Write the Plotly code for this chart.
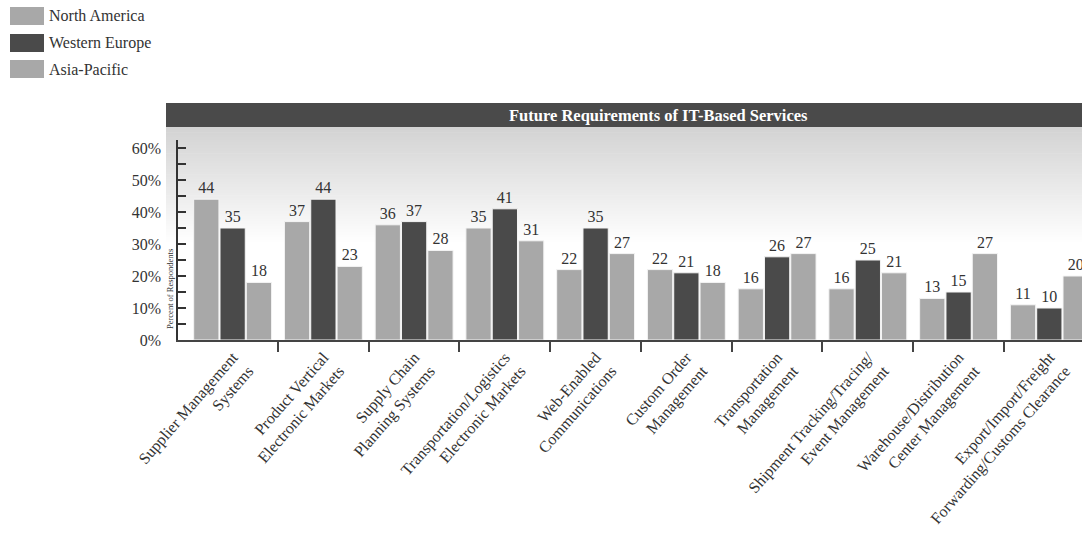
import plotly.graph_objects as go

# Survey data: share of respondents naming each IT-based service as a future requirement
categories = [
    "Supplier Management<br>Systems",
    "Product Vertical<br>Electronic Markets",
    "Supply Chain<br>Planning Systems",
    "Transportation/Logistics<br>Electronic Markets",
    "Web-Enabled<br>Communications",
    "Custom Order<br>Management",
    "Transportation<br>Management",
    "Shipment Tracking/Tracing/<br>Event Management",
    "Warehouse/Distribution<br>Center Management",
    "Export/Import/Freight<br>Forwarding/Customs Clearance",
]
north_america = [44, 37, 36, 35, 22, 22, 16, 16, 13, 11]
western_europe = [35, 44, 37, 41, 35, 21, 26, 25, 15, 10]
asia_pacific = [18, 23, 28, 31, 27, 18, 27, 21, 27, 20]

series_names = ["North America", "Western Europe", "Asia-Pacific"]
series_values = [north_america, western_europe, asia_pacific]
series_colors = ["#a8a8a8", "#4a4a4a", "#a8a8a8"]

y_tick_values = [0, 10, 20, 30, 40, 50, 60]
y_tick_labels = ["0%", "10%", "20%", "30%", "40%", "50%", "60%"]

chart_title = "Future Requirements of IT-Based Services"
y_title = "Percent of Respondents"

FONT = "Liberation Serif"
TEXT = "#333333"

W, H = 1082, 535
L, R, T, B = 178, 1082, 140, 340   # plot area in pixels


def fx(x):
    return (x - L) / (R - L)


def fy(y):
    return (B - y) / (B - T)


x_pos = list(range(len(categories)))

fig = go.Figure()
for name, vals, col in zip(series_names, series_values, series_colors):
    fig.add_trace(go.Bar(
        x=x_pos, y=vals, name=name,
        marker=dict(color=col, line=dict(color="#f4f4f4", width=1)),
        text=[str(v) for v in vals], textposition="outside",
        textfont=dict(family=FONT, size=16, color=TEXT),
        cliponaxis=True, showlegend=False,
    ))

shapes = []
# soft grey gradient under the title band
n_strips = 45
g_top, g_bot = 127, 245
for i in range(n_strips):
    y0 = g_top + (g_bot - g_top) * i / n_strips
    y1 = g_top + (g_bot - g_top) * (i + 1) / n_strips + 0.6
    c = int(211 + (255 - 211) * (i / (n_strips - 1)))
    shapes.append(dict(type="rect", xref="paper", yref="paper",
                       x0=fx(166), x1=fx(1090), y0=fy(y1), y1=fy(y0),
                       fillcolor=f"rgb({c},{c},{c})", line=dict(width=0),
                       layer="below"))
# dark title band
shapes.append(dict(type="rect", xref="paper", yref="paper",
                   x0=fx(166), x1=fx(1090), y0=fy(127), y1=fy(103),
                   fillcolor="#4a4a4a", line=dict(width=0), layer="above"))

annotations = [
    dict(text=f"<b>{chart_title}</b>", xref="paper", yref="paper",
         x=fx(658), y=fy(115), showarrow=False, xanchor="center", yanchor="middle",
         font=dict(family=FONT, size=16.5, color="white")),
    dict(text=y_title, xref="paper", yref="paper", x=fx(170), y=fy(289),
         showarrow=False, textangle=-90, xanchor="center", yanchor="middle",
         font=dict(family=FONT, size=8.5, color=TEXT)),
]

# legend swatches drawn at the top-left corner
legend_rows = [16, 43, 69]
for name, col, yc in zip(series_names, series_colors, legend_rows):
    shapes.append(dict(type="rect", xref="paper", yref="paper",
                       x0=fx(10), x1=fx(44), y0=fy(yc + 9), y1=fy(yc - 9),
                       fillcolor=col, line=dict(width=0)))
    annotations.append(dict(text=name, xref="paper", yref="paper",
                            x=fx(47), y=fy(yc), showarrow=False,
                            xanchor="left", yanchor="middle",
                            font=dict(family=FONT, size=16, color=TEXT)))

fig.update_layout(
    width=W, height=H,
    margin=dict(l=L, r=W - R, t=T, b=H - B, pad=0),
    paper_bgcolor="white", plot_bgcolor="rgba(0,0,0,0)",
    barmode="group", bargap=0.13, bargroupgap=0.04,
    shapes=shapes, annotations=annotations,
    font=dict(family=FONT, color=TEXT),
    xaxis=dict(
        range=[-0.602, 9.36], tickmode="array", tickvals=x_pos, ticktext=categories,
        tickangle=-49, ticks="", showgrid=False, zeroline=False,
        showline=True, linecolor="#444444", linewidth=1.5,
        tickfont=dict(family=FONT, size=16, color=TEXT),
        minor=dict(tickmode="array", tickvals=[i + 0.5 for i in range(len(categories) - 1)],
                   ticks="outside", ticklen=10, tickcolor="#444444", tickwidth=1.5,
                   showgrid=False),
    ),
    yaxis=dict(
        range=[0, 62.5], tickmode="array", tickvals=y_tick_values, ticktext=y_tick_labels,
        ticks="inside", ticklen=8, tickcolor="#333333", tickwidth=1.5,
        showgrid=False, zeroline=False, showline=True, linecolor="#333333", linewidth=1.5,
        tickfont=dict(family=FONT, size=16, color=TEXT), ticklabelstandoff=12,
        minor=dict(tickmode="array", tickvals=[5, 15, 25, 35, 45, 55],
                   ticks="inside", ticklen=8, tickcolor="#333333", tickwidth=1.5,
                   showgrid=False),
    ),
)

fig.write_html("out.html")
